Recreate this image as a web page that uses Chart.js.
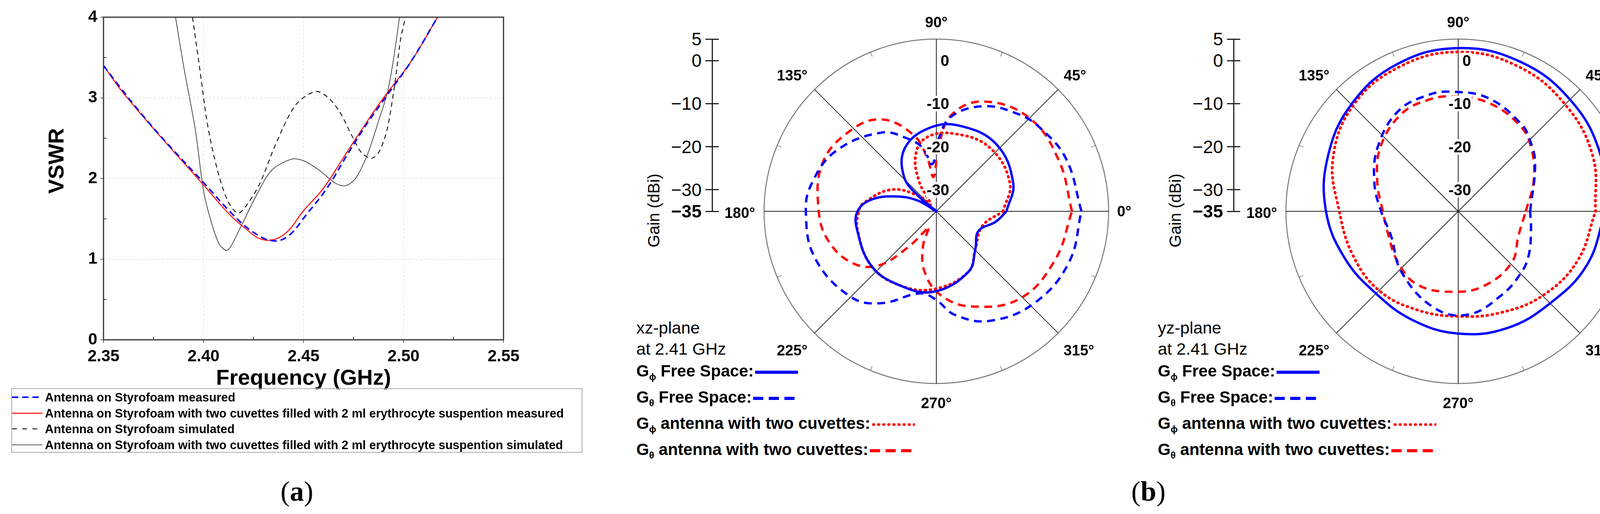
<!DOCTYPE html>
<html><head><meta charset="utf-8">
<script src="https://cdn.jsdelivr.net/npm/chart.js@4.4.1/dist/chart.umd.min.js"></script>
<style>
body{margin:0;width:4245px;height:1316px;background:#fff;position:relative;overflow:hidden;font-family:"Liberation Sans",Arial,sans-serif;}
.a{position:absolute;white-space:nowrap;}
canvas{position:absolute;}
.ang{position:absolute;font-weight:bold;font-size:38px;transform:translate(-50%,-50%);z-index:3}
.rl{position:absolute;font-weight:bold;font-size:40px;background:#fff;transform:translate(-100%,-50%);z-index:3;line-height:40px;padding:0 2px}
.gt{position:absolute;font-size:46px;transform:translate(-100%,-50%);z-index:3}
.lg{position:absolute;font-weight:bold;font-size:42px;z-index:3;white-space:nowrap;line-height:50px}
.lg sub{font-size:24px;}
.ll{position:absolute;font-size:31px;font-weight:bold;white-space:nowrap;transform:translateY(-50%)}
</style></head><body>
<script>
// ---------- Data: VSWR (a) ----------
const xTicks=[2.35,2.40,2.45,2.50,2.55];
const yTicks=[0,1,2,3,4];
const fMeasFoam=[2.35,2.358,2.369,2.382,2.40,2.414,2.424,2.434,2.442,2.452,2.462,2.472,2.482,2.492,2.504,2.517];
const vMeasFoam=[3.40,3.14,2.80,2.43,1.95,1.57,1.35,1.23,1.28,1.57,1.89,2.30,2.69,3.04,3.46,4.0];
const fMeasCuv=[2.35,2.358,2.369,2.382,2.40,2.412,2.42,2.43,2.44,2.45,2.46,2.47,2.48,2.49,2.504,2.517];
const vMeasCuv=[3.40,3.12,2.79,2.42,1.92,1.58,1.40,1.24,1.30,1.60,1.88,2.26,2.64,3.00,3.46,4.0];
const fSimFoam=[2.3945,2.3979,2.402,2.407,2.412,2.417,2.421,2.428,2.436,2.446,2.456,2.462,2.468,2.474,2.479,2.484,2.488,2.492,2.496,2.4985,2.501];
const vSimFoam=[4.0,3.40,2.67,2.10,1.73,1.57,1.65,1.93,2.42,2.91,3.08,3.01,2.83,2.54,2.32,2.25,2.34,2.63,3.24,3.72,4.0];
const fSimCuv=[2.386,2.390,2.396,2.400,2.404,2.408,2.412,2.418,2.426,2.434,2.444,2.450,2.458,2.466,2.471,2.476,2.482,2.488,2.492,2.495,2.498];
const vSimCuv=[4.0,3.40,2.59,1.85,1.45,1.18,1.11,1.37,1.77,2.10,2.24,2.22,2.10,1.94,1.91,2.00,2.30,2.75,3.07,3.48,4.0];

// ---------- Data: polar (b) ----------
const gainTicks=[5,0,-10,-20,-30,-35];
const ringLabels=[0,-10,-20,-30];
const angleLabels=[0,45,90,135,180,225,270,315];
// xz-plane
const xzPhiFreeA=[0,20,48,74,94,116,133,140,145,150,160,170,180,193,220,243,268,298,316,335,350,360];
const xzPhiFreeG=[-18.7,-16,-14.1,-14.4,-15.5,-18.5,-24,-30,-35,-30,-24.9,-19.6,-16.7,-16.1,-15.3,-15.8,-16.3,-19.1,-22.4,-24.2,-21,-18.7];
const xzThFreeA=[0,22,39,50,65.6,81,88,95,102,111,125,149,167,180,201,225,239,259,270,280,296,317,339,360];
const xzThFreeG=[-1.3,-2.5,-4.1,-5.5,-8.2,-12.7,-18,-24,-20,-17,-12.7,-7.8,-5.4,-4.7,-4.8,-6.9,-10.1,-15.6,-14.4,-10.6,-6.7,-3.8,-2,-1.3];
const xzPhiCuvA=[0,21,50,77,97.5,110,120,130,138,154,173.5,180,193,220,243,268,298,316,342,360];
const xzPhiCuvG=[-19.5,-16.7,-15.7,-16.5,-17.7,-21,-27,-33,-29.8,-23.5,-18,-17,-16.2,-15.3,-15.8,-16.9,-19.1,-22.4,-23.8,-19.5];
const xzThCuvA=[0,22.5,45,66.5,81,88,94.6,100,107,121,137,157,180,196,212,223,231,240,245,249,259,273,290.5,314,338,360];
const xzThCuvG=[-3.5,-4.2,-4.4,-7.2,-12.3,-20,-27,-22,-16.3,-10.1,-7.6,-6.3,-7.7,-9.1,-12.2,-16.5,-23.7,-29.7,-31,-26.4,-20.7,-15.5,-11.4,-6.9,-5.2,-3.5];
// yz-plane
const yzPhiFreeA=[0,22.5,45,67.5,90,112.5,135,157.5,180,202.5,225,247.5,270,292.5,315,337.5,360];
const yzPhiFreeG=[-0.8,0.6,1.7,2.6,2.9,2.0,0.1,-2.2,-4.3,-6.5,-8,-7.6,-6.6,-5.6,-4.8,-2.6,-0.8];
const yzPhiCuvA=[0,22.5,45,67.5,90,112.5,135,157.5,180,202.5,225,247.5,270,292.5,315,337.5,360];
const yzPhiCuvG=[-3.1,-1.2,0.1,1.4,2.0,1.2,-0.4,-3.5,-7.4,-8.5,-9.0,-10.2,-10.6,-9.5,-7.3,-5.0,-3.1];
const yzThFreeA=[0,31.7,44.4,54,75,93,104.5,121,141.5,161.6,180,200,227,256,275.5,297.5,316,328,345,360];
const yzThFreeG=[-18.3,-14,-11.6,-10,-7.8,-7.2,-7.1,-7.9,-11.1,-14.5,-17.1,-18.4,-15.7,-11.9,-10.9,-13.1,-14.6,-15.7,-17.5,-18.3];
const yzThCuvA=[0,22.5,41.6,55,75,93,105,120,140,160,180,197,220,241.5,267.7,290,316.5,337.8,360];
const yzThCuvG=[-19.3,-16,-12.4,-10.4,-8.8,-8.3,-8.2,-8.8,-11.5,-15,-17.5,-17.9,-16.7,-15.5,-16.3,-16.7,-17.8,-19.9,-19.3];

const BLUE='#0000ff', RED='#ff0000';
function el(tag,cls,html,style){const e=document.createElement(tag);if(cls)e.className=cls;if(html!=null)e.innerHTML=html;Object.assign(e.style,style||{});document.body.appendChild(e);return e;}
function mkCanvas(l,t,w,h){const c=el('canvas',null,null,{left:l+'px',top:t+'px',width:w+'px',height:h+'px'});c.width=w;c.height=h;return c;}
const pts=(xs,ys)=>xs.map((x,i)=>({x,y:ys[i]}));

// ---------- Chart (a) ----------
const cvA=mkCanvas(0,0,1340,960);
const boxPlugin={id:'box',afterDraw(c){const a=c.chartArea,ctx=c.ctx;ctx.save();ctx.strokeStyle='#333';ctx.lineWidth=3;ctx.strokeRect(a.left,a.top,a.right-a.left,a.bottom-a.top);
 ctx.lineWidth=2;const xs=c.scales.x,ys=c.scales.y;
 for(let v=2.375;v<2.55;v+=0.05){const p=xs.getPixelForValue(v);ctx.beginPath();ctx.moveTo(p,a.bottom);ctx.lineTo(p,a.bottom-8);ctx.stroke();}
 for(let v=0.5;v<4;v+=1){const p=ys.getPixelForValue(v);ctx.beginPath();ctx.moveTo(a.left,p);ctx.lineTo(a.left+8,p);ctx.stroke();}
 ctx.restore();}};
new Chart(cvA,{type:'scatter',data:{datasets:[
 {data:pts(fMeasFoam,vMeasFoam),showLine:true,borderColor:BLUE,borderWidth:4,borderDash:[16,10],pointRadius:0,tension:0.4},
 {data:pts(fMeasCuv,vMeasCuv),showLine:true,borderColor:RED,borderWidth:2.5,pointRadius:0,tension:0.4},
 {data:pts(fSimFoam,vSimFoam),showLine:true,borderColor:'#222',borderWidth:2.5,borderDash:[12,9],pointRadius:0,tension:0.3},
 {data:pts(fSimCuv,vSimCuv),showLine:true,borderColor:'#222',borderWidth:1.6,pointRadius:0,tension:0.3}]},
 options:{responsive:false,animation:false,devicePixelRatio:1,layout:{autoPadding:false,padding:{top:44,right:51,left:0,bottom:0}},
 plugins:{legend:{display:false},tooltip:{enabled:false}},
 scales:{x:{type:'linear',min:xTicks[0],max:xTicks[xTicks.length-1],afterBuildTicks:s=>{s.ticks=xTicks.map(v=>({value:v}));},
   afterFit:s=>{s.height=90;},ticks:{font:{family:'Liberation Sans',size:42,weight:'bold'},color:'#000',padding:10,callback:v=>v.toFixed(2),maxRotation:0},
   grid:{color:'#ddd',lineWidth:1.5,tickLength:8,tickColor:'#333'},border:{display:false,dash:[5,5]}},
  y:{min:0,max:4,afterBuildTicks:s=>{s.ticks=yTicks.map(v=>({value:v}));},afterFit:s=>{s.width=265;},
   ticks:{font:{family:'Liberation Sans',size:42,weight:'bold'},color:'#000',padding:8},
   grid:{color:'#ddd',lineWidth:1.5,tickLength:8,tickColor:'#333'},border:{display:false,dash:[5,5]}}}},plugins:[boxPlugin]});
el('div','a','VSWR',{left:'143px',top:'412px',transform:'translate(-50%,-50%) rotate(-90deg)',fontWeight:'bold',fontSize:'56px'});
el('div','a','Frequency (GHz)',{left:'777px',top:'965px',transform:'translate(-50%,-50%)',fontWeight:'bold',fontSize:'56px'});
el('div','a','',{left:'29px',top:'994px',width:'1462px',height:'165px',border:'2px solid #aaa',boxSizing:'border-box'});
const legA=[['Antenna on Styrofoam measured',BLUE,4,'16 10'],['Antenna on Styrofoam with two cuvettes filled with 2 ml erythrocyte suspention measured',RED,2.5,''],['Antenna on Styrofoam simulated','#222',2.5,'12 14'],['Antenna on Styrofoam with two cuvettes filled with 2 ml erythrocyte suspention simulated','#222',1.6,'']];
legA.forEach((l,i)=>{const y=1018+i*40.5;
 el('div','a',`<svg width="78" height="10"><line x1="0" y1="5" x2="78" y2="5" stroke="${l[1]}" stroke-width="${l[2]}" stroke-dasharray="${l[3]}"/></svg>`,{left:'31px',top:(y-6)+'px',lineHeight:'0'});
 el('div','ll',l[0],{left:'115px',top:y+'px'});});
el('div','a','(<b>a</b>)',{left:'760px',top:'1258px',transform:'translate(-50%,-50%)',fontFamily:'Liberation Serif',fontSize:'72px'});
el('div','a','(<b>b</b>)',{left:'2940px',top:'1258px',transform:'translate(-50%,-50%)',fontFamily:'Liberation Serif',fontSize:'72px'});

// ---------- Polar charts ----------
const R=441;
function polarPts(A,G){return A.map((a,i)=>{const r=Math.max(G[i]+35,0),t=a*Math.PI/180;return {x:r*Math.cos(t),y:r*Math.sin(t)};});}
const gridPlugin={id:'pgrid',beforeDatasetsDraw(c){const ctx=c.ctx,xs=c.scales.x,ys=c.scales.y;
 const cx=xs.getPixelForValue(0),cy=ys.getPixelForValue(0),rr=xs.getPixelForValue(40)-cx;
 ctx.save();ctx.strokeStyle='#777';ctx.lineWidth=2.5;ctx.beginPath();ctx.arc(cx,cy,rr,0,2*Math.PI);ctx.stroke();
 ctx.strokeStyle='#222';ctx.lineWidth=2;
 angleLabels.forEach(a=>{const t=a*Math.PI/180;ctx.beginPath();ctx.moveTo(cx,cy);ctx.lineTo(xs.getPixelForValue(40*Math.cos(t)),ys.getPixelForValue(40*Math.sin(t)));ctx.stroke();});
 ctx.strokeStyle='#777';ctx.lineWidth=1.5;
 for(let a=22.5;a<360;a+=45){const t=a*Math.PI/180;ctx.beginPath();ctx.moveTo(cx+rr*Math.cos(t),cy-rr*Math.sin(t));ctx.lineTo(cx+(rr-12)*Math.cos(t),cy-(rr-12)*Math.sin(t));ctx.stroke();}
 ctx.restore();}};
function polar(CX,CY,sets,plane,axX){
 const S=960,L=CX-S/2,T=CY-S/2,half=40*(S/2)/R;
 const cv=mkCanvas(L,T,S,S);
 const styles=[{c:BLUE,d:[]},{c:BLUE,d:[20,14]},{c:RED,d:[2,11],cap:'round'},{c:RED,d:[20,14]}];
 const ch=new Chart(cv,{type:'scatter',data:{datasets:sets.map((s,i)=>({data:polarPts(s[0],s[1]),showLine:true,borderColor:styles[i].c,borderWidth:i==2?7:6,borderDash:styles[i].d,borderCapStyle:styles[i].cap||'butt',pointRadius:0,tension:0.4}))},
  options:{responsive:false,animation:false,devicePixelRatio:1,layout:{autoPadding:false,padding:0},plugins:{legend:{display:false},tooltip:{enabled:false}},
   scales:{x:{display:false,min:-half,max:half},y:{display:false,min:-half,max:half}}},plugins:[gridPlugin]});
 const xs=ch.scales.x,ys=ch.scales.y;
 const cx=L+xs.getPixelForValue(0),cy=T+ys.getPixelForValue(0);
 const gy=v=>T+ys.getPixelForValue(v+35);
 const rpx=xs.getPixelForValue(40)-xs.getPixelForValue(0);
 const off={0:[cx+rpx+40,cy],45:[cx+355,193],90:[cx,57],135:[cx-369,193],180:[cx-rpx-62,cy+4],225:[cx-369,897],270:[cx,1032],315:[cx+365,897]};
 angleLabels.forEach(a=>el('div','ang',a+'°',{left:off[a][0]+'px',top:off[a][1]+'px'}));
 ringLabels.forEach(v=>el('div','rl',String(v),{left:(cx+35)+'px',top:gy(v)+'px'}));
 const top=gy(5),bot=gy(-35);
 el('div','a','',{left:axX+'px',top:top+'px',width:'3px',height:(bot-top)+'px',background:'#222'});
 gainTicks.forEach(v=>{const y=gy(v);
  el('div','a','',{left:(axX-16)+'px',top:(y-1.5)+'px',width:'34px',height:'3px',background:'#222'});
  el('div','gt',(v<0?'\u2212':'')+Math.abs(v),{left:(axX-26)+'px',top:y+'px',fontWeight:v===-35?'bold':'normal'});});
 el('div','a','Gain (dBi)',{left:(axX-148)+'px',top:(cy-2)+'px',transform:'translate(-50%,-50%) rotate(-90deg)',fontSize:'42px'});
 const lx=axX-193;
 el('div','lg',plane+'-plane<br>at 2.41 GHz',{left:lx+'px',top:'812px',fontWeight:'normal',fontSize:'43px',lineHeight:'54px'});
 const rows=[['G<sub>ϕ</sub> Free Space:',0],['G<sub>θ</sub> Free Space:',1],['G<sub>ϕ</sub> antenna with two cuvettes:',2],['G<sub>θ</sub> antenna with two cuvettes:',3]];
 rows.forEach((r,i)=>{const y=950+i*67;const st=styles[r[1]];
  el('div','lg',r[0]+`<svg width="110" height="14" style="vertical-align:middle;margin-left:4px"><line x1="${st.cap?4:0}" y1="7" x2="110" y2="7" stroke="${st.c}" stroke-width="${i==2?7:8}" stroke-linecap="${st.cap||'butt'}" stroke-dasharray="${i==0?'':(i==2?'1 12':'26 14')}"/></svg>`,{left:lx+'px',top:(y-25)+'px'});});
}
polar(2397,541,[[xzPhiFreeA,xzPhiFreeG],[xzThFreeA,xzThFreeG],[xzPhiCuvA,xzPhiCuvG],[xzThCuvA,xzThCuvG]],'xz',1822);
polar(3733,541,[[yzPhiFreeA,yzPhiFreeG],[yzThFreeA,yzThFreeG],[yzPhiCuvA,yzPhiCuvG],[yzThCuvA,yzThCuvG]],'yz',3157);
</script></body></html>
